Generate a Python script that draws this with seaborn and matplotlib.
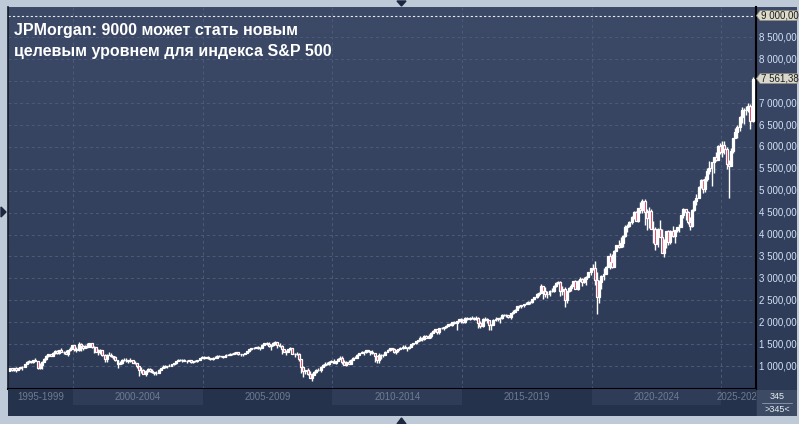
import numpy as np
import pandas as pd
import matplotlib
matplotlib.use("Agg")
import matplotlib.pyplot as plt
import matplotlib.transforms as mtransforms
from matplotlib.colors import LinearSegmentedColormap
from matplotlib.patches import Polygon, Rectangle
import seaborn as sns

# monthly S&P 500 candles, Jul 1997 .. Mar 2026 (345 bars)
first_open = 885
closes = [
    954, 899, 947, 915, 955, 970,
    980, 1049, 1102, 1112, 1091, 1134, 1121, 957, 1017, 1099, 1164, 1229,
    1280, 1238, 1286, 1335, 1302, 1373, 1329, 1320, 1283, 1363, 1389, 1469,
    1394, 1366, 1499, 1452, 1421, 1455, 1431, 1518, 1437, 1429, 1315, 1320,
    1366, 1240, 1160, 1249, 1256, 1224, 1211, 1134, 1041, 1060, 1139, 1148,
    1130, 1107, 1147, 1077, 1067, 990, 912, 916, 815, 886, 936, 880,
    856, 841, 848, 917, 964, 975, 990, 1008, 996, 1051, 1058, 1112,
    1131, 1145, 1126, 1107, 1121, 1141, 1102, 1104, 1115, 1130, 1174, 1212,
    1181, 1204, 1181, 1157, 1192, 1191, 1234, 1220, 1229, 1207, 1249, 1248,
    1280, 1281, 1295, 1311, 1270, 1270, 1277, 1304, 1336, 1378, 1401, 1418,
    1438, 1407, 1421, 1482, 1531, 1503, 1455, 1474, 1527, 1549, 1481, 1468,
    1379, 1331, 1323, 1386, 1400, 1280, 1267, 1283, 1166, 969, 896, 903,
    826, 735, 798, 873, 919, 919, 987, 1021, 1057, 1036, 1096, 1115,
    1074, 1104, 1169, 1187, 1089, 1031, 1102, 1049, 1141, 1183, 1181, 1258,
    1286, 1327, 1326, 1364, 1345, 1321, 1292, 1219, 1131, 1253, 1247, 1258,
    1312, 1366, 1408, 1398, 1310, 1362, 1379, 1407, 1441, 1412, 1416, 1426,
    1498, 1515, 1569, 1598, 1631, 1606, 1686, 1633, 1682, 1757, 1806, 1848,
    1783, 1859, 1872, 1884, 1924, 1960, 1931, 2003, 1972, 2018, 2068, 2059,
    1995, 2105, 2068, 2086, 2107, 2063, 2104, 1972, 1920, 2079, 2080, 2044,
    1940, 1932, 2060, 2065, 2097, 2099, 2174, 2171, 2168, 2126, 2199, 2239,
    2279, 2364, 2363, 2384, 2412, 2423, 2470, 2472, 2519, 2575, 2648, 2674,
    2824, 2714, 2641, 2648, 2705, 2718, 2816, 2902, 2914, 2712, 2760, 2507,
    2704, 2784, 2834, 2946, 2752, 2942, 2980, 2926, 2977, 3038, 3141, 3231,
    3226, 2954, 2585, 2912, 3044, 3100, 3271, 3500, 3363, 3270, 3622, 3756,
    3714, 3811, 3973, 4181, 4204, 4298, 4395, 4523, 4308, 4605, 4567, 4766,
    4516, 4374, 4530, 4132, 4132, 3785, 4130, 3955, 3586, 3872, 4080, 3840,
    4077, 3970, 4109, 4169, 4180, 4450, 4589, 4508, 4288, 4194, 4568, 4770,
    4846, 5096, 5254, 5036, 5278, 5460, 5522, 5648, 5762, 5705, 6032, 5882,
    6041, 5955, 5612, 5569, 5912, 6205, 6339, 6460, 6688, 6840, 6849, 6845,
    6940, 6600, 7561.38,
]
highs = [
    961, 961, 960, 983, 960, 986,
    992, 1051, 1106, 1130, 1123, 1139, 1190, 1122, 1066, 1104, 1193, 1245,
    1280, 1282, 1316, 1362, 1368, 1373, 1421, 1352, 1357, 1373, 1424, 1473,
    1479, 1445, 1553, 1527, 1482, 1474, 1518, 1520, 1531, 1448, 1439, 1390,
    1383, 1376, 1268, 1269, 1316, 1286, 1226, 1220, 1137, 1110, 1163, 1173,
    1176, 1131, 1173, 1147, 1107, 1070, 994, 966, 925, 907, 954, 954,
    935, 864, 895, 924, 965, 1016, 1015, 1011, 1040, 1054, 1063, 1112,
    1155, 1159, 1164, 1150, 1127, 1146, 1141, 1109, 1132, 1140, 1188, 1217,
    1218, 1212, 1229, 1192, 1199, 1219, 1245, 1245, 1236, 1233, 1270, 1275,
    1295, 1297, 1310, 1318, 1326, 1284, 1283, 1306, 1340, 1389, 1407, 1432,
    1441, 1462, 1438, 1499, 1535, 1541, 1556, 1503, 1538, 1576, 1555, 1524,
    1471, 1396, 1361, 1397, 1440, 1405, 1292, 1314, 1303, 1167, 1007, 919,
    944, 876, 833, 878, 930, 957, 996, 1040, 1081, 1102, 1114, 1130,
    1151, 1113, 1180, 1220, 1219, 1131, 1113, 1130, 1150, 1196, 1228, 1263,
    1303, 1344, 1332, 1370, 1371, 1346, 1357, 1307, 1230, 1293, 1277, 1270,
    1334, 1378, 1420, 1422, 1415, 1364, 1392, 1427, 1475, 1470, 1434, 1448,
    1510, 1531, 1570, 1598, 1687, 1654, 1698, 1710, 1730, 1775, 1813, 1850,
    1850, 1867, 1884, 1897, 1925, 1968, 1992, 2006, 2019, 2018, 2076, 2093,
    2065, 2120, 2117, 2126, 2135, 2129, 2133, 2113, 2021, 2094, 2117, 2104,
    2038, 1963, 2076, 2112, 2103, 2121, 2178, 2194, 2188, 2169, 2214, 2278,
    2301, 2371, 2401, 2399, 2418, 2454, 2484, 2491, 2519, 2582, 2657, 2695,
    2873, 2789, 2802, 2718, 2742, 2791, 2848, 2917, 2941, 2940, 2816, 2800,
    2708, 2813, 2861, 2949, 2954, 2964, 3028, 3014, 3022, 3050, 3155, 3248,
    3338, 3393, 3136, 2955, 3068, 3233, 3280, 3514, 3588, 3550, 3646, 3760,
    3870, 3951, 3994, 4219, 4238, 4302, 4430, 4546, 4546, 4608, 4744, 4808,
    4819, 4595, 4637, 4594, 4308, 4178, 4141, 4325, 4120, 3905, 4081, 4101,
    4095, 4196, 4111, 4170, 4231, 4449, 4608, 4584, 4542, 4394, 4588, 4793,
    4932, 5111, 5265, 5264, 5342, 5524, 5669, 5651, 5768, 5879, 6044, 6100,
    6128, 6147, 6009, 5696, 5968, 6215, 6428, 6508, 6699, 6920, 6890, 6945,
    7000, 6980, 7600,
]
lows = [
    891, 893, 896, 855, 903, 926,
    912, 979, 1041, 1077, 1074, 1075, 1108, 940, 939, 924, 1094, 1133,
    1211, 1223, 1245, 1281, 1282, 1279, 1322, 1281, 1269, 1233, 1341, 1387,
    1350, 1325, 1346, 1339, 1373, 1420, 1413, 1431, 1420, 1305, 1316, 1255,
    1274, 1228, 1081, 1091, 1243, 1203, 1165, 1124, 945, 1040, 1054, 1123,
    1081, 1074, 1102, 1063, 1048, 952, 776, 838, 815, 768, 873, 870,
    840, 800, 789, 848, 903, 964, 962, 961, 991, 995, 1025, 1054,
    1105, 1125, 1087, 1106, 1077, 1113, 1074, 1061, 1101, 1091, 1127, 1174,
    1163, 1180, 1171, 1137, 1147, 1188, 1184, 1201, 1202, 1175, 1201, 1246,
    1245, 1253, 1277, 1281, 1245, 1219, 1224, 1266, 1290, 1327, 1361, 1385,
    1404, 1389, 1364, 1416, 1476, 1484, 1427, 1370, 1463, 1490, 1406, 1435,
    1271, 1325, 1257, 1317, 1374, 1272, 1200, 1247, 1107, 840, 741, 815,
    805, 735, 667, 784, 843, 889, 870, 979, 992, 1020, 1029, 1086,
    1071, 1045, 1106, 1167, 1041, 1029, 1011, 1040, 1040, 1131, 1173, 1181,
    1256, 1289, 1249, 1294, 1311, 1258, 1283, 1101, 1075, 1075, 1159, 1203,
    1258, 1311, 1341, 1358, 1292, 1267, 1325, 1377, 1396, 1403, 1343, 1399,
    1426, 1485, 1501, 1537, 1582, 1560, 1605, 1628, 1633, 1646, 1746, 1775,
    1737, 1738, 1834, 1815, 1862, 1915, 1931, 1905, 1964, 1821, 2001, 1973,
    1988, 1981, 2040, 2048, 2068, 2057, 2044, 1867, 1872, 1894, 2020, 1993,
    1812, 1811, 1937, 2034, 2025, 1992, 2075, 2148, 2120, 2097, 2084, 2188,
    2234, 2271, 2322, 2329, 2353, 2406, 2407, 2418, 2446, 2520, 2557, 2605,
    2683, 2533, 2585, 2553, 2594, 2699, 2699, 2803, 2864, 2604, 2631, 2346,
    2444, 2681, 2722, 2848, 2750, 2729, 2952, 2822, 2892, 2855, 3050, 3070,
    3182, 2855, 2192, 2448, 2766, 2966, 3115, 3284, 3210, 3234, 3280, 3633,
    3694, 3725, 3723, 3955, 4057, 4165, 4234, 4367, 4305, 4279, 4495, 4496,
    4223, 4115, 4157, 4125, 3811, 3637, 3721, 3955, 3584, 3492, 3699, 3765,
    3795, 3943, 3809, 4069, 4048, 4167, 4386, 4336, 4239, 4104, 4168, 4547,
    4682, 4854, 5057, 4954, 4967, 5234, 5391, 5120, 5403, 5675, 5696, 5832,
    5774, 5837, 5505, 4835, 5578, 5861, 6201, 6212, 6360, 6551, 6521, 6720,
    6800, 6400, 6560,
]
price_ticks = [1000, 1500, 2000, 2500, 3000, 3500, 4000, 4500, 5000,
               5500, 6000, 6500, 7000, 8000, 8500]
target_level = 9000
last_price = 7561.38
period_labels = ["1995-1999", "2000-2004", "2005-2009", "2010-2014",
                 "2015-2019", "2020-2024", "2025-2026"]
period_years = [1995, 2000, 2005, 2010, 2015, 2020, 2025]
bar_count = "345"
title = "JPMorgan: 9000 может стать новым\nцелевым уровнем для индекса S&P 500"

df = pd.DataFrame({"close": closes, "high": highs, "low": lows})
df["open"] = [first_open] + closes[:-1]
df["i"] = np.arange(len(df))
df["up"] = df["close"] >= df["open"]

sns.set_theme(style="dark")
plt.rcParams["font.family"] = ["Liberation Sans", "DejaVu Sans"]

W, H = 799, 424
fig = plt.figure(figsize=(W / 100, H / 100), dpi=100)
fig.patch.set_facecolor("#bfcad8")


def frac(x0, y0, x1, y1):
    return [x0 / W, 1 - y1 / H, (x1 - x0) / W, (y1 - y0) / H]


px = mtransforms.Affine2D().scale(1 / W, -1 / H).translate(0, 1) + fig.transFigure

# gradient panel background
bg = fig.add_axes(frac(8, 7, 797, 416))
cmap = LinearSegmentedColormap.from_list("bg", ["#2b3854", "#3c4a68"])
bg.imshow(np.linspace(0, 1, 200).reshape(-1, 1)[::-1], cmap=cmap, aspect="auto",
          extent=[0, 1, 0, 1])
bg.set_axis_off()

XMIN, XMAX = -0.7, 345.6
YMIN, YMAX = 475, 9196

ax = fig.add_axes(frac(8, 7, 756, 389))
ax.set_facecolor("none")
ax.set_xlim(XMIN, XMAX)
ax.set_ylim(YMIN, YMAX)
ax.set_xticks([])
ax.set_yticks([])
ax.spines["top"].set_visible(False)
ax.spines["right"].set_color("black")
ax.spines["right"].set_linewidth(1.5)
ax.spines["bottom"].set_color("black")
ax.spines["bottom"].set_linewidth(1.5)
ax.spines["left"].set_color("#141c2b")
ax.spines["left"].set_linewidth(1.2)

grid_c = "#4d5b77"
for v in price_ticks + [7500]:
    ax.axhline(v, color=grid_c, lw=0.7, ls=(0, (3, 3)), zorder=1)
ax.axhline(target_level, color="#e8edf4", lw=0.8, ls=(0, (2, 2)), zorder=1)
bounds = [(y - 1997) * 12 - 6 - 0.5 for y in period_years]
for b in bounds[1:]:
    ax.axvline(b, color=grid_c, lw=0.7, ls=(0, (3, 3)), zorder=1)

# candles
ax.vlines(df["i"], df["low"], df["high"], color="white", lw=1.0, zorder=2)
body_lo = df[["open", "close"]].min(axis=1)
body_h = (df["close"] - df["open"]).abs()
ax.bar(df["i"], body_h, bottom=body_lo, width=0.9,
       color=np.where(df["up"], "white", "#e0173d"),
       edgecolor="white", linewidth=0.9, zorder=3)

fig.text(14 / W, 1 - 23 / H, title, color="white", fontsize=11.5,
         fontweight="bold", va="top", ha="left", linespacing=1.5)

# right price scale
axr = fig.add_axes(frac(756, 7, 797, 389))
axr.set_facecolor("none")
axr.set_xlim(0, 1)
axr.set_ylim(YMIN, YMAX)
axr.set_axis_off()
lab_c = "#d2e2f6"


def fmt(v):
    return f"{v:,.2f}".replace(",", " ").replace(".", ",")


for v in price_ticks:
    axr.text(0.08, v, fmt(v), color=lab_c, fontsize=7, va="center", ha="left")
half = 5 * (YMAX - YMIN) / 382
for v, fc in [(target_level, "#dcdac8"), (last_price, "#d9d8cc")]:
    axr.add_patch(Polygon([(0.01, v), (0.1, v + half), (1.0, v + half),
                           (1.0, v - half), (0.1, v - half)],
                          closed=True, facecolor=fc, edgecolor="#8a8a80",
                          lw=0.5, clip_on=False))
    axr.text(0.12, v, fmt(v), color="#1e1e1e", fontsize=7, va="center", ha="left")

# period strip
axb = fig.add_axes(frac(8, 389, 756, 416))
axb.set_xlim(XMIN, XMAX)
axb.set_ylim(0, 1)
axb.set_facecolor("#25324b")
axb.set_xticks([])
axb.set_yticks([])
for s in axb.spines.values():
    s.set_visible(False)
ends = bounds[1:] + [XMAX + 60]
for k, (lab, a, b) in enumerate(zip(period_labels, bounds, ends)):
    a2 = max(a, XMIN)
    if k % 2 == 1:
        axb.add_patch(Rectangle((a, 0.42), b - a, 0.58, color="#2e3c58", lw=0))
    axb.text((a2 + b) / 2 if k < len(period_labels) - 1 else a + 8.6,
             0.7, lab, color="#6f7b91", fontsize=7, ha="center", va="center",
             clip_on=True)

# bar count box
axc = fig.add_axes(frac(757, 390, 797, 416))
axc.set_facecolor("#3d4a64")
axc.plot([0.12, 0.88], [0.5, 0.5], color="#8f9bb0", lw=0.6)
axc.set_xlim(0, 1)
axc.set_ylim(0, 1)
axc.set_xticks([])
axc.set_yticks([])
for s in axc.spines.values():
    s.set_visible(False)
axc.text(0.5, 0.75, bar_count, color="#e6edf5", fontsize=6.5, ha="center", va="center")
axc.text(0.5, 0.26, ">" + bar_count + "<", color="#e6edf5", fontsize=6.5,
         ha="center", va="center")

# small navigation arrows
tri_c = "#1c2740"
fig.add_artist(Polygon([(397, 1), (406, 1), (401.5, 6)], closed=True,
                       color=tri_c, transform=px))
fig.add_artist(Polygon([(1, 207), (1, 217), (6, 212)], closed=True,
                       color=tri_c, transform=px))
fig.add_artist(Polygon([(397, 424), (406, 424), (401.5, 418)], closed=True,
                       color=tri_c, transform=px))

fig.savefig("out.png", dpi=100)
